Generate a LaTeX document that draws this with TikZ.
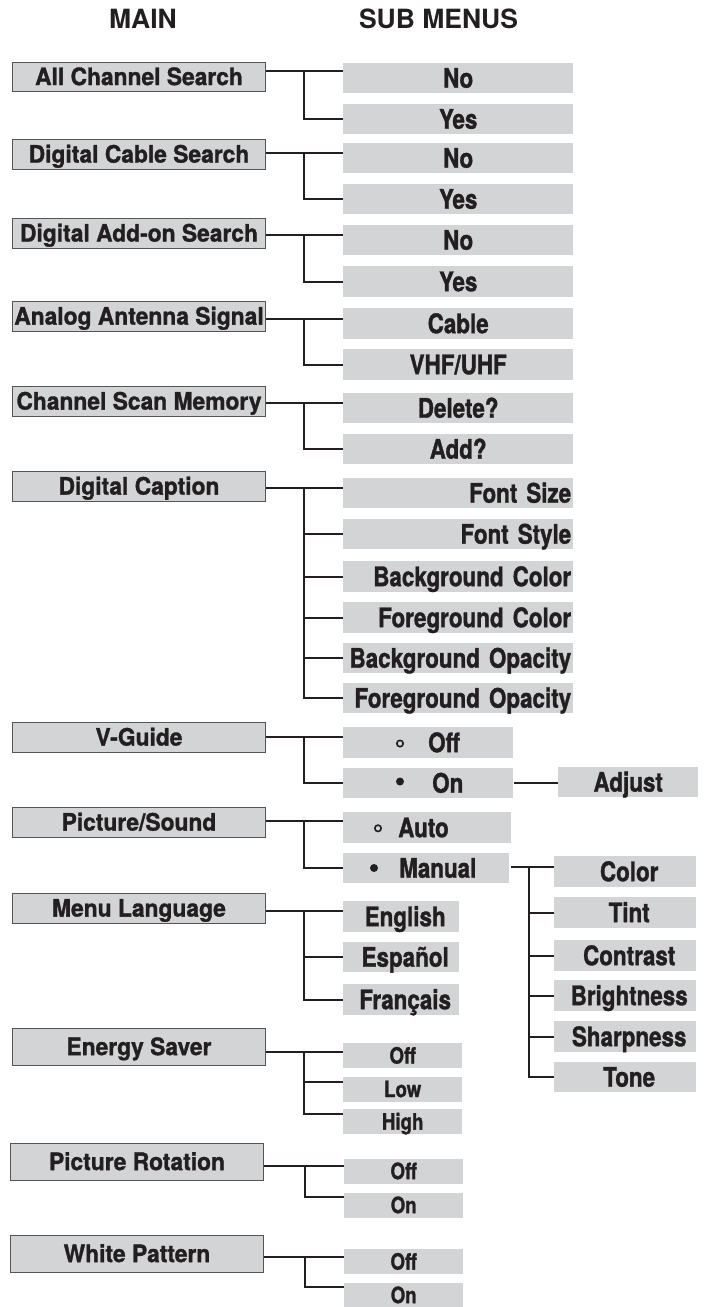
\documentclass[tikz,border=0pt]{standalone}
\usepackage{fontspec}
\setmainfont{TeX Gyre Heros}
\newfontfamily\mainc[FakeStretch=0.95,FakeBold=1.2]{TeX Gyre Heros}
\newfontfamily\subc[FakeStretch=0.83,FakeBold=1.2]{TeX Gyre Heros}
\definecolor{boxgray}{RGB}{211,212,214}
\definecolor{ink}{RGB}{35,31,32}
\definecolor{edge}{RGB}{85,85,85}
\begin{document}
\begin{tikzpicture}[x=1pt,y=-1pt,
 mainbox/.style={draw=edge,line width=1pt,fill=boxgray,inner sep=0pt,minimum width=253pt,minimum height=30pt,text=ink,font=\mainc\bfseries\fontsize{24}{26}\selectfont,text height=17.2pt,text depth=0pt,anchor=west},
 subbox/.style={fill=boxgray,inner sep=0pt,minimum height=30.5pt,text=ink,font=\subc\bfseries\fontsize{27}{29}\selectfont,text height=19.4pt,text depth=0pt,anchor=west},
 smallsub/.style={subbox,font=\subc\bfseries\fontsize{22.5}{24}\selectfont,text height=16.2pt,minimum height=25pt,minimum width=119pt},
 capbox/.style={subbox,minimum width=230pt,text width=226pt,align=right},
 leftbox/.style={subbox,align=left},
 head/.style={font=\bfseries\fontsize{26.5}{28}\selectfont,text=ink,inner sep=0pt},
 conn/.style={draw=ink,line width=2pt},
 solid dot/.style={fill=ink},
 ring dot/.style={draw=ink,line width=1.6pt},
]
\useasboundingbox (0,0) rectangle (704,1307);

% headers
\node[head] (hmain) at (143,19) {MAIN};
\node[head] (hsub) at (438.5,19) {SUB MENUS};

% main boxes
\node[mainbox,minimum height=29pt] (m1) at (12,76.5) {All Channel Search};
\node[mainbox] (m2) at (12,154) {Digital Cable Search};
\node[mainbox] (m3) at (12,233) {Digital Add-on Search};
\node[mainbox] (m4) at (12,316) {Analog Antenna Signal};
\node[mainbox] (m5) at (12,401) {Channel Scan Memory};
\node[mainbox] (m6) at (12,486) {Digital Caption};
\node[mainbox] (m7) at (12,737) {V-Guide};
\node[mainbox] (m8) at (12,822) {Picture/Sound};
\node[mainbox] (m9) at (12,908) {Menu Language};
\node[mainbox,minimum height=37pt] (m10) at (12,1046.5) {Energy Saver};
\node[mainbox,minimum height=37pt] (m11) at (10,1161.5) {Picture Rotation};
\node[mainbox,minimum height=37pt] (m12) at (10,1253.5) {White Pattern};

% group 1-5 sub boxes
\node[subbox,minimum width=230pt] (s1a) at (343,78) {No};
\node[subbox,minimum width=230pt] (s1b) at (343,119) {Yes};
\node[subbox,minimum width=230pt] (s2a) at (343,158) {No};
\node[subbox,minimum width=230pt] (s2b) at (343,199) {Yes};
\node[subbox,minimum width=230pt] (s3a) at (343,240) {No};
\node[subbox,minimum width=230pt] (s3b) at (343,281.5) {Yes};
\node[subbox,minimum width=230pt] (s4a) at (343,323.5) {Cable};
\node[subbox,minimum width=230pt] (s4b) at (343,364.5) {VHF/UHF};
\node[subbox,minimum width=230pt] (s5a) at (343,408) {Delete?};
\node[subbox,minimum width=230pt] (s5b) at (343,449) {Add?};

% digital caption
\node[capbox] (s6a) at (343,493) {Font Size};
\node[capbox] (s6b) at (343,534) {Font Style};
\node[capbox] (s6c) at (343,576.5) {Background Color};
\node[capbox] (s6d) at (343,617.5) {Foreground Color};
\node[capbox] (s6e) at (343,658) {Background Opacity};
\node[capbox] (s6f) at (343,698) {Foreground Opacity};

% V-Guide
\node[leftbox,text width=170pt] (s7a) at (343,742.5) {\hspace*{85pt}Off};
\node[leftbox,text width=170pt] (s7b) at (343,783) {\hspace*{89pt}On};
\node[subbox,minimum width=140pt] (adj) at (558,782) {Adjust};
\draw[ring dot] ([xshift=57pt,yshift=-1pt]s7a.west) circle (3.2pt);
\fill[solid dot] ([xshift=57pt,yshift=1.5pt]s7b.west) circle (4pt);

% Picture/Sound
\node[leftbox,text width=168pt] (s8a) at (343,827.5) {\hspace*{55pt}Auto};
\node[leftbox,text width=166pt] (s8b) at (343,868) {\hspace*{56pt}Manual};
\draw[ring dot] ([xshift=35pt,yshift=-0.8pt]s8a.west) circle (3.2pt);
\fill[solid dot] ([xshift=31pt]s8b.west) circle (4pt);
\node[subbox,minimum width=142pt] (c1) at (554,871.5) {\hspace*{8pt}Color};
\node[subbox,minimum width=142pt] (c2) at (554,912.5) {\hspace*{8pt}Tint};
\node[subbox,minimum width=142pt] (c3) at (554,955.5) {\hspace*{8pt}Contrast};
\node[subbox,minimum width=142pt] (c4) at (554,995.5) {\hspace*{8pt}Brightness};
\node[subbox,minimum width=142pt] (c5) at (554,1036.5) {\hspace*{8pt}Sharpness};
\node[subbox,minimum width=142pt] (c6) at (554,1077) {\hspace*{8pt}Tone};

% Menu Language
\node[subbox,minimum width=116pt] (s9a) at (343,916.5) {\hspace*{8pt}English};
\node[subbox,minimum width=116pt] (s9b) at (343,957) {\hspace*{8pt}Español};
\node[subbox,minimum width=116pt] (s9c) at (343,999.5) {\hspace*{8pt}Français};

% Energy Saver
\node[smallsub] (s10a) at (343,1055.5) {Off};
\node[smallsub] (s10b) at (343,1089) {Low};
\node[smallsub] (s10c) at (343,1121.5) {High};

% Picture Rotation
\node[smallsub] (s11a) at (344,1171) {Off};
\node[smallsub] (s11b) at (344,1205) {On};

% White Pattern
\node[smallsub] (s12a) at (344,1261.5) {Off};
\node[smallsub] (s12b) at (344,1295) {On};

% connectors
\coordinate (j1) at (304,71);
\draw[conn] (m1.east |- j1) -- (s1a.west |- j1);
\draw[conn] (j1) |- (s1b.west);

\coordinate (j2) at (304,153);
\draw[conn] (m2.east |- j2) -- (s2a.west |- j2);
\draw[conn] (j2) |- (s2b.west);

\coordinate (j3) at (304,235);
\draw[conn] (m3.east |- j3) -- (s3a.west |- j3);
\draw[conn] (j3) |- (s3b.west);

\coordinate (j4) at (304,319);
\draw[conn] (m4.east |- j4) -- (s4a.west |- j4);
\draw[conn] (j4) |- (s4b.west);

\coordinate (j5) at (304,403);
\draw[conn] (m5.east |- j5) -- (s5a.west |- j5);
\draw[conn] (j5) |- (s5b.west);

\coordinate (j6) at (304,488);
\draw[conn] (m6.east |- j6) -- (s6a.west |- j6);
\draw[conn] (j6) |- (s6f.west);
\draw[conn] (j6 |- s6b.west) -- (s6b.west);
\draw[conn] (j6 |- s6c.west) -- (s6c.west);
\draw[conn] (j6 |- s6d.west) -- (s6d.west);
\draw[conn] (j6 |- s6e.west) -- (s6e.west);

\coordinate (j7) at (304,737);
\draw[conn] (m7.east |- j7) -- (s7a.west |- j7);
\draw[conn] (j7) |- (s7b.west);
\draw[conn] ([xshift=1pt]s7b.east) -- (s7b.east -| adj.west);

\coordinate (j8) at (304,821);
\draw[conn] (m8.east |- j8) -- (s8a.west |- j8);
\draw[conn] (j8) |- (s8b.west);

\coordinate (jm) at (529,867);
\draw[conn] ([xshift=2pt]s8b.east |- jm) -- (c1.west |- jm);
\draw[conn] (jm) |- (c6.west);
\draw[conn] (jm |- c2.west) -- (c2.west);
\draw[conn] (jm |- c3.west) -- (c3.west);
\draw[conn] (jm |- c4.west) -- (c4.west);
\draw[conn] (jm |- c5.west) -- (c5.west);

\coordinate (j9) at (304,911);
\draw[conn] (m9.east |- j9) -- (s9a.west |- j9);
\draw[conn] (j9) |- (s9c.west);
\draw[conn] (j9 |- s9b.west) -- (s9b.west);

\coordinate (j10) at (304,1052);
\coordinate (b10) at ([yshift=7pt]s10b.west);
\coordinate (e10) at ([yshift=7.5pt]s10c.west);
\draw[conn] (m10.east |- j10) -- (s10a.west |- j10);
\draw[conn] (j10) |- (e10);
\draw[conn] (j10 |- b10) -- (b10);

\coordinate (j11) at (305,1166);
\coordinate (e11) at ([yshift=8pt]s11b.west);
\draw[conn] (m11.east |- j11) -- (s11a.west |- j11);
\draw[conn] (j11) |- (e11);

\coordinate (j12) at (305,1257);
\coordinate (e12) at ([yshift=8pt]s12b.west);
\draw[conn] (m12.east |- j12) -- (s12a.west |- j12);
\draw[conn] (j12) |- (e12);
\end{tikzpicture}
\end{document}
